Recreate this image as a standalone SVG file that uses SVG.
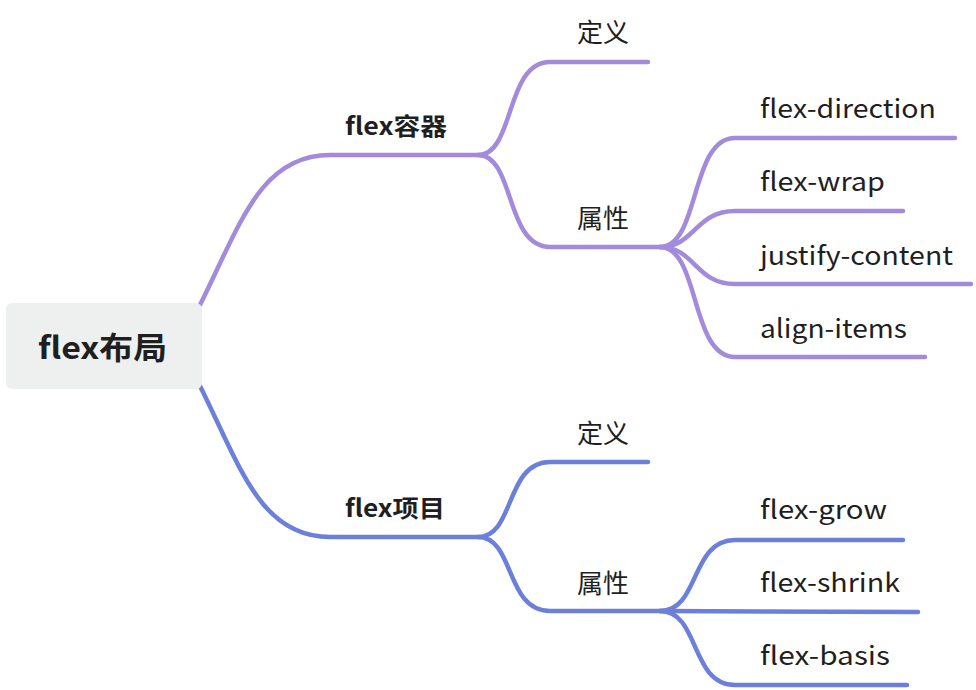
<svg xmlns="http://www.w3.org/2000/svg" width="976" height="690" viewBox="0 0 976 690">
<style>
.t{font-family:"Noto Sans CJK SC","Noto Sans",sans-serif;fill:#1f1f1f;}
.l3{font-size:26px;}
.l1{font-size:24px;font-weight:bold;}
.root{font-size:31px;font-weight:bold;}
.p{fill:none;stroke:#a38bdc;stroke-width:4.5;stroke-linecap:round;}
.b{fill:none;stroke:#6c80da;stroke-width:4.5;stroke-linecap:round;}
</style>
<rect width="976" height="690" fill="#ffffff"/>
<g id="connectors">
<path class="p" d="M200 305 C240 225 260 155 330 155 L478 155"/>
<path class="p" d="M478 155 C515 155 505 62 550 62 L648 62"/>
<path class="p" d="M478 155 C515 155 505 247 550 247 L660 247"/>
<path class="p" d="M660 247 C700 247 690 138 735 138 L955 138"/>
<path class="p" d="M660 247 C695 247 695 211 735 211 L903 211"/>
<path class="p" d="M660 247 C695 247 695 284 735 284 L971 284"/>
<path class="p" d="M660 247 C700 247 690 357 735 357 L925 357"/>
<path class="b" d="M200 386 C240 466 260 537 330 537 L478 537"/>
<path class="b" d="M478 537 C515 537 505 462 550 462 L648 462"/>
<path class="b" d="M478 537 C515 537 505 611 550 611 L660 611"/>
<path class="b" d="M660 611 C700 611 690 540 735 540 L903 540"/>
<path class="b" d="M660 611 L918 612"/>
<path class="b" d="M660 611 C700 611 690 685 735 685 L907 685"/>
</g>
<g id="root">
<rect x="6" y="303" width="196" height="86" rx="6" fill="#eef0f0"/>
<text class="t root" x="38" y="359" textLength="129" lengthAdjust="spacingAndGlyphs">flex布局</text>
</g>
<g id="n-container"><text class="t l1" x="345" y="135" textLength="102" lengthAdjust="spacingAndGlyphs">flex容器</text></g>
<g id="n-c-def"><text class="t l3" x="577" y="42">定义</text></g>
<g id="n-c-attr"><text class="t l3" x="577" y="228">属性</text></g>
<g id="n-fd"><text class="t l3" x="760" y="118" textLength="176" lengthAdjust="spacingAndGlyphs">flex-direction</text></g>
<g id="n-fw"><text class="t l3" x="760" y="191" textLength="125" lengthAdjust="spacingAndGlyphs">flex-wrap</text></g>
<g id="n-jc"><text class="t l3" x="760" y="265" textLength="193" lengthAdjust="spacingAndGlyphs">justify-content</text></g>
<g id="n-ai"><text class="t l3" x="760" y="338" textLength="147" lengthAdjust="spacingAndGlyphs">align-items</text></g>
<g id="n-item"><text class="t l1" x="345" y="517" textLength="100" lengthAdjust="spacingAndGlyphs">flex项目</text></g>
<g id="n-i-def"><text class="t l3" x="577" y="443">定义</text></g>
<g id="n-i-attr"><text class="t l3" x="577" y="593">属性</text></g>
<g id="n-fg"><text class="t l3" x="760" y="519" textLength="127" lengthAdjust="spacingAndGlyphs">flex-grow</text></g>
<g id="n-fs"><text class="t l3" x="760" y="592" textLength="140" lengthAdjust="spacingAndGlyphs">flex-shrink</text></g>
<g id="n-fb"><text class="t l3" x="760" y="665" textLength="130" lengthAdjust="spacingAndGlyphs">flex-basis</text></g>
</svg>
